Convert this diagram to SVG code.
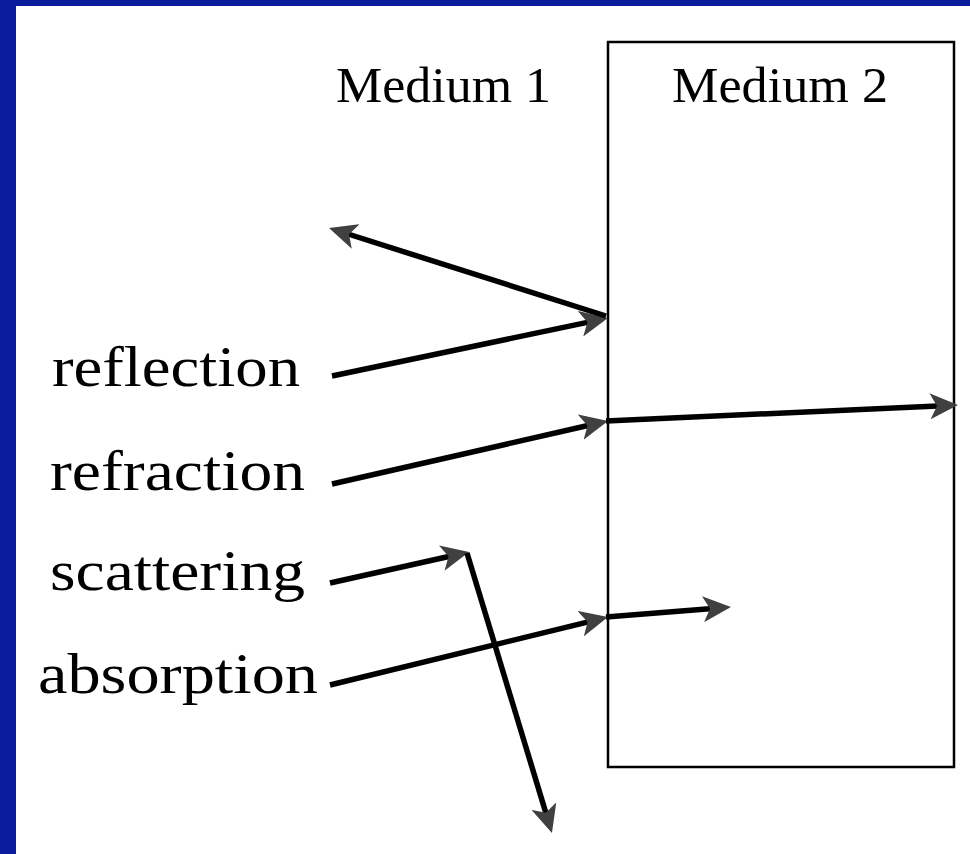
<svg xmlns="http://www.w3.org/2000/svg" width="970" height="854" viewBox="0 0 970 854">
<style>
.lbl{font-family:"Liberation Serif","DejaVu Serif",serif;fill:#000}
.big{font-size:58px}
.med{font-size:50px}
.ray{stroke:#000;stroke-width:5.5;fill:none;marker-end:url(#ah)}
</style>
<defs>
<marker id="ah" markerUnits="userSpaceOnUse" markerWidth="28" markerHeight="26" viewBox="0 0 28 26" refX="13" refY="13" orient="auto">
<path d="M0,0 L28,13 L0,26 L7,13 z" fill="#404040"/>
</marker>
</defs>
<rect x="0" y="0" width="970" height="854" fill="#0c1c9e"/>
<rect x="16" y="6" width="954" height="848" fill="#fff"/>
<g id="medium2">
<rect x="608" y="42" width="346" height="725" fill="none" stroke="#000" stroke-width="2.5"/>
<text class="lbl med" x="672" y="102" textLength="216" lengthAdjust="spacingAndGlyphs">Medium 2</text>
</g>
<g id="medium1">
<text class="lbl med" x="336" y="102" textLength="215" lengthAdjust="spacingAndGlyphs">Medium 1</text>
</g>
<g id="labels">
<text class="lbl big" x="52" y="386" textLength="248" lengthAdjust="spacingAndGlyphs">reflection</text>
<text class="lbl big" x="50" y="490" textLength="255" lengthAdjust="spacingAndGlyphs">refraction</text>
<text class="lbl big" x="50" y="590" textLength="255" lengthAdjust="spacingAndGlyphs">scattering</text>
<text class="lbl big" x="38" y="693" textLength="280" lengthAdjust="spacingAndGlyphs">absorption</text>
</g>
<g id="connectors">
<line class="ray" x1="332" y1="376" x2="593.3" y2="321.1"/>
<line class="ray" x1="606" y1="316" x2="343.3" y2="232.5"/>
<line class="ray" x1="332" y1="484" x2="593.4" y2="424.3"/>
<line class="ray" x1="606" y1="421" x2="943" y2="405.7"/>
<line class="ray" x1="330" y1="583" x2="454.4" y2="555.3"/>
<line class="ray" x1="467" y1="553" x2="547.6" y2="818.6"/>
<line class="ray" x1="330" y1="685" x2="593.4" y2="620.6"/>
<line class="ray" x1="606" y1="617" x2="716" y2="608.2"/>
</g>
</svg>
